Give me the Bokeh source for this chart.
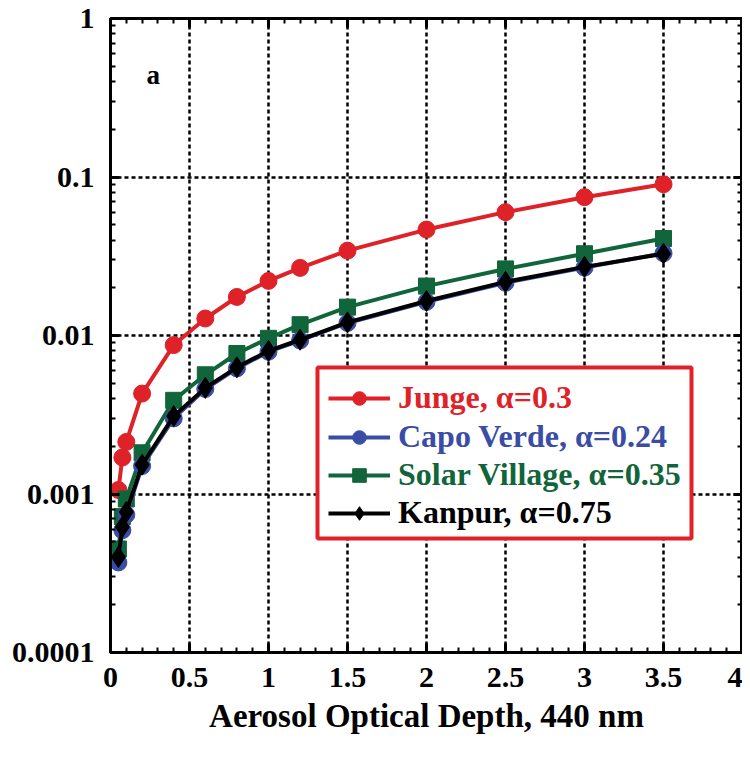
from bokeh.plotting import figure
from bokeh.models import (LinearAxis, LogAxis, FixedTicker, Legend, LegendItem,
                          BoxAnnotation, Label, Range1d)
from bokeh.embed import file_html
from bokeh.resources import INLINE

# ---- data ----
aod = [0.05, 0.075, 0.1, 0.2, 0.4, 0.6, 0.8, 1.0, 1.2, 1.5, 2.0, 2.5, 3.0, 3.5]
junge = [0.00106, 0.0017, 0.00213, 0.0043, 0.0087, 0.0128, 0.0175, 0.0221,
         0.0267, 0.0343, 0.0466, 0.060, 0.0746, 0.090]
capo_verde = [0.00037, 0.00059, 0.00074, 0.0015, 0.0030, 0.0046, 0.0062, 0.0079,
              0.0093, 0.0120, 0.0163, 0.0215, 0.0268, 0.0330]
solar_village = [0.00045, 0.00072, 0.00093, 0.00182, 0.0039, 0.00565, 0.0077, 0.0096,
                 0.0117, 0.0151, 0.0205, 0.0263, 0.0328, 0.0409]
kanpur = [0.0004, 0.00062, 0.00077, 0.00153, 0.0031, 0.00467, 0.0063, 0.0080,
          0.0094, 0.0121, 0.0165, 0.0218, 0.0271, 0.0328]

series_labels = ["Junge, \u03b1=0.3", "Capo Verde, \u03b1=0.24",
                 "Solar Village, \u03b1=0.35", "Kanpur, \u03b1=0.75"]
x_ticks = [0, 0.5, 1, 1.5, 2, 2.5, 3, 3.5, 4]
x_tick_labels = ["0", "0.5", "1", "1.5", "2", "2.5", "3", "3.5", "4"]
y_ticks = [0.0001, 0.001, 0.01, 0.1, 1]
y_tick_labels = ["0.0001", "0.001", "0.01", "0.1", "1"]
x_title = "Aerosol Optical Depth, 440 nm"
panel_tag = "a"

RED = "#DF2128"
BLUE = "#3A4DA6"
GREEN = "#11653A"
BLACK = "#000000"
FONT = "Liberation Serif"

p = figure(width=742, height=736, y_axis_type="log",
           x_range=Range1d(0, 4), y_range=Range1d(1e-4, 1),
           output_backend="svg", toolbar_location=None,
           min_border_left=110, min_border_top=18, min_border_right=0,
           min_border_bottom=0, background_fill_color="white",
           border_fill_color="white")

x_minor = [i / 10 for i in range(41)]
y_minor = [k * 10.0 ** e for e in range(-4, 0) for k in range(2, 10)]
xt = FixedTicker(ticks=x_ticks, minor_ticks=x_minor)
yt = FixedTicker(ticks=y_ticks, minor_ticks=y_minor)


def style_axis(ax, labels):
    ax.axis_line_width = 3
    ax.axis_line_color = "black"
    ax.major_tick_in = 9
    ax.major_tick_out = 0
    ax.major_tick_line_width = 3
    ax.minor_tick_in = 5
    ax.minor_tick_out = 0
    ax.minor_tick_line_width = 2
    ax.major_label_text_font = FONT
    ax.major_label_text_font_style = "bold"
    ax.major_label_text_color = "black"
    if labels:
        ax.major_label_text_font_size = "30px"
    else:
        ax.major_label_text_font_size = "1px"
        ax.major_label_text_alpha = 0
        ax.major_label_standoff = 0


xa = p.xaxis[0]
xa.ticker = xt
xa.major_label_overrides = {t: s for t, s in zip(x_ticks, x_tick_labels)}
style_axis(xa, True)
xa.major_label_standoff = 15
xa.axis_label = x_title
xa.axis_label_text_font = FONT
xa.axis_label_text_font_style = "bold"
xa.axis_label_text_font_size = "33px"
xa.axis_label_text_color = "black"
xa.axis_label_standoff = 8

ya = p.yaxis[0]
ya.ticker = yt
ya.major_label_overrides = {t: s for t, s in zip(y_ticks, y_tick_labels)}
style_axis(ya, True)
ya.major_label_standoff = 16

top_ax = LinearAxis(ticker=xt)
style_axis(top_ax, False)
p.add_layout(top_ax, "above")
right_ax = LogAxis(ticker=yt)
style_axis(right_ax, False)
p.add_layout(right_ax, "right")

p.xgrid.ticker = xt
p.ygrid.ticker = yt
for g in (p.xgrid[0], p.ygrid[0]):
    g.grid_line_color = "black"
    g.grid_line_width = 2.5
    g.grid_line_dash = "4 3"

p.outline_line_color = "black"
p.outline_line_width = 3

specs = [
    (junge, RED, "circle", 17),
    (solar_village, GREEN, "square", 16),
    (capo_verde, BLUE, "circle", 17),
    (kanpur, BLACK, "diamond", 21),
]
rmap = {}
for ys, col, mk, sz in specs:
    lr = p.line(aod, ys, line_color=col, line_width=4)
    sr = p.scatter(aod, ys, marker=mk, size=sz, fill_color=col, line_color=col)
    rmap[col] = (lr, sr)

p.add_layout(Label(x=0.27, y=0.44, text=panel_tag, text_font=FONT,
                   text_font_style="bold", text_font_size="27px",
                   text_color="black",
                   text_align="center", text_baseline="middle"))

box = BoxAnnotation(left=207, right=581, top=285, bottom=114,
                    left_units="screen", right_units="screen",
                    top_units="screen", bottom_units="screen",
                    fill_color="white", fill_alpha=1.0,
                    line_color=RED, line_width=4, line_alpha=1.0)
p.add_layout(box)

order = [(series_labels[0], RED), (series_labels[1], BLUE),
         (series_labels[2], GREEN), (series_labels[3], BLACK)]
row_y = [236, 197, 159, 121]
for (lab, col), vy in zip(order, row_y):
    lg = Legend(items=[LegendItem(label=lab, renderers=list(rmap[col]))],
                location=(218, vy), padding=0, margin=0, spacing=0,
                border_line_alpha=0, background_fill_alpha=0,
                glyph_width=62, glyph_height=34, label_height=34,
                label_standoff=8, label_text_font=FONT,
                label_text_font_style="bold", label_text_font_size="32px",
                label_text_color=col)
    p.add_layout(lg)

open("out.html", "w").write(file_html(p, INLINE))
